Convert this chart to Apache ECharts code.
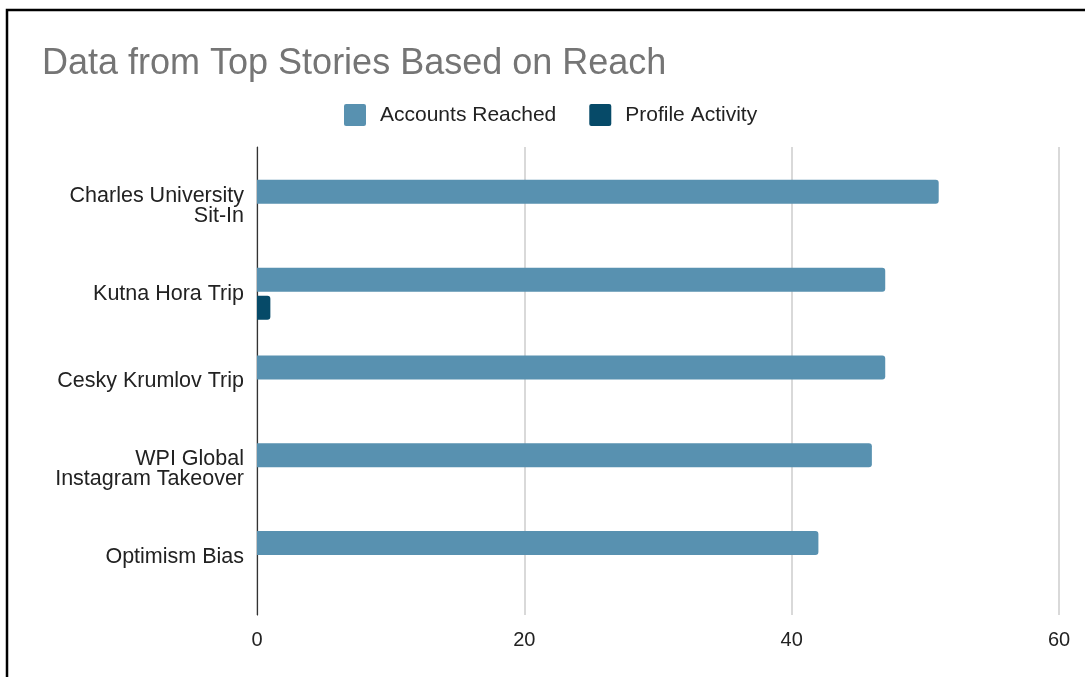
<!DOCTYPE html>
<html>
<head>
<meta charset="utf-8">
<script src="https://cdn.jsdelivr.net/npm/echarts@6/dist/echarts.min.js"></script>
<style>
  html, body { margin: 0; padding: 0; background: #fff; }
  #chart { width: 1085px; height: 677px; }
</style>
</head>
<body>
<div id="chart"></div>
<script>
// Story categories, top to bottom
const categories = [
  'Charles University\nSit-In',
  'Kutna Hora Trip',
  'Cesky Krumlov Trip',
  'WPI Global\nInstagram Takeover',
  'Optimism Bias'
];
const accountsReached = [51, 47, 47, 46, 42];
const profileActivity = [0, 1, 0, 0, 0];

// Value axis scale
const axisMin = 0;
const axisMax = 60;
const axisStep = 20;

const FONT = '"Liberation Sans", Arial, Helvetica, sans-serif';
const COLOR_REACHED = '#5891b0';
const COLOR_PROFILE = '#064a68';

// Square legend swatch with slightly softened corners
const SWATCH = 'path://M2,0 L19,0 Q21,0 21,2 L21,19 Q21,21 19,21 L2,21 Q0,21 0,19 L0,2 Q0,0 2,0 Z';

const chart = echarts.init(document.getElementById('chart'), null, { renderer: 'canvas' });

chart.setOption({
  backgroundColor: '#ffffff',
  animation: false,
  textStyle: { fontFamily: FONT },
  title: {
    text: 'Data from Top Stories Based on Reach',
    left: 37,
    top: 41,
    textStyle: { fontFamily: FONT, fontSize: 36, fontWeight: 'normal', color: '#757575' }
  },
  legend: {
    left: 339,
    top: 99,
    itemWidth: 22,
    itemHeight: 22,
    itemGap: 33,
    icon: SWATCH,
    textStyle: { fontFamily: FONT, fontSize: 21, color: '#222', padding: [0, 0, 0, 9] },
    data: ['Accounts Reached', 'Profile Activity']
  },
  graphic: [{
    type: 'rect',
    shape: { x: 7, y: 10, width: 1200, height: 800 },
    style: { fill: 'none', stroke: '#000', lineWidth: 2.5 },
    silent: true,
    z: 100
  }],
  grid: [
    // frame grid: gridlines, value labels and the category axis line
    { left: 257, right: 26, top: 147, bottom: 62 },
    // bar grid: inset so bars sit in the inner bands
    { left: 257, right: 26, top: 162, bottom: 76 }
  ],
  xAxis: [
    {
      gridIndex: 0,
      type: 'value',
      min: axisMin,
      max: axisMax,
      interval: axisStep,
      axisLine: { show: false },
      axisTick: { show: false },
      axisLabel: { fontFamily: FONT, fontSize: 20, color: '#222', margin: 15 },
      splitLine: { show: true, lineStyle: { color: '#cccccc', width: 1.5 } }
    },
    {
      gridIndex: 1,
      type: 'value',
      min: axisMin,
      max: axisMax,
      show: false
    }
  ],
  yAxis: [
    {
      gridIndex: 0,
      type: 'value',
      min: 0,
      max: 1,
      axisLine: { show: true, lineStyle: { color: '#333', width: 1.2 } },
      axisTick: { show: false },
      axisLabel: { show: false },
      splitLine: { show: false }
    },
    {
      gridIndex: 1,
      type: 'category',
      inverse: true,
      data: categories,
      axisLine: { show: false },
      axisTick: { show: false },
      splitLine: { show: false },
      axisLabel: {
        fontFamily: FONT,
        fontSize: 21.5,
        lineHeight: 20,
        color: '#222',
        margin: 13,
        align: 'right'
      }
    }
  ],
  series: [
    {
      name: 'Accounts Reached',
      type: 'bar',
      xAxisIndex: 1,
      yAxisIndex: 1,
      data: accountsReached,
      barWidth: 24,
      barGap: '17%',
      itemStyle: { color: COLOR_REACHED, borderRadius: [0, 3, 3, 0] }
    },
    {
      name: 'Profile Activity',
      type: 'bar',
      xAxisIndex: 1,
      yAxisIndex: 1,
      data: profileActivity,
      barWidth: 24,
      barGap: '17%',
      itemStyle: { color: COLOR_PROFILE, borderRadius: [0, 3, 3, 0] }
    }
  ]
});
</script>
</body>
</html>
